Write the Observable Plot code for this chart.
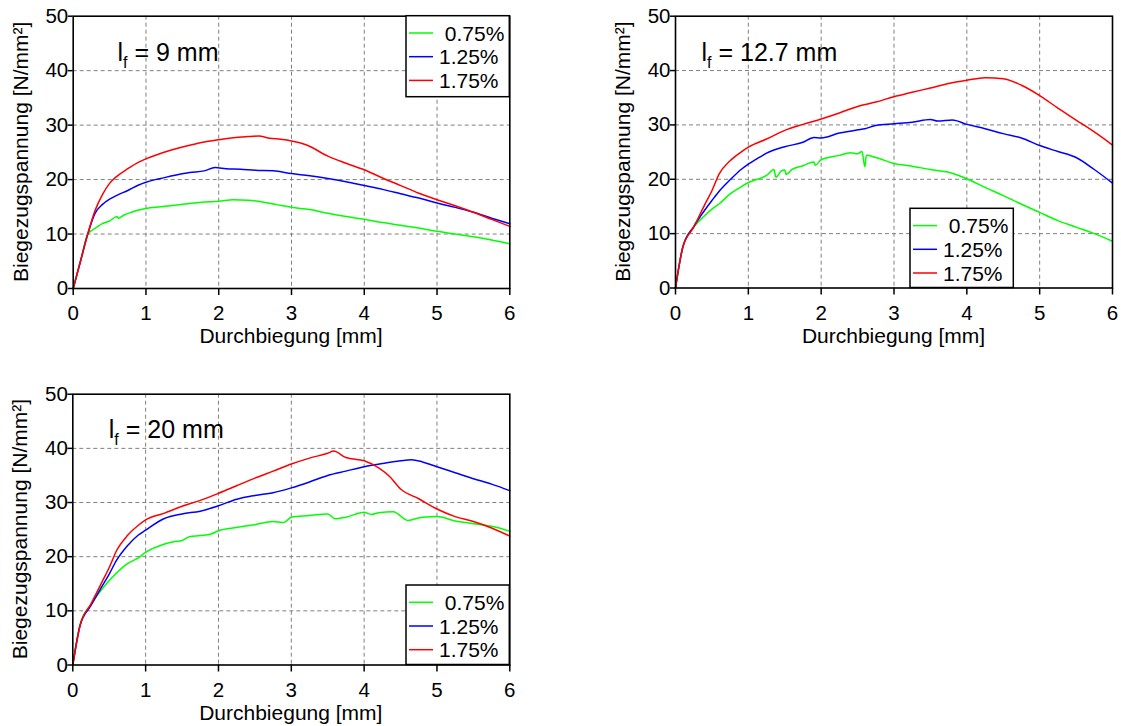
<!DOCTYPE html>
<html><head><meta charset="utf-8">
<script src="https://cdn.jsdelivr.net/npm/d3@7"></script>
<script src="https://cdn.jsdelivr.net/npm/@observablehq/plot@0.6"></script>
<style>
body{margin:0;background:#fff;width:1121px;height:726px;position:relative;overflow:hidden;font-family:"Liberation Sans",Arial,sans-serif}
.panel{position:absolute}
</style></head><body>
<div id="p1" class="panel" style="left:0;top:0"></div>
<div id="p2" class="panel" style="left:600px;top:0"></div>
<div id="p3" class="panel" style="left:0;top:366px"></div>
<script>
const seriesNames = ["\u00a00.75%", "1.25%", "1.75%"];
const seriesColors = ["#00ff00", "#0000ff", "#ff0000"];
const xTicks = [0, 1, 2, 3, 4, 5, 6];
const yTicks = [0, 10, 20, 30, 40, 50];
const xLabel = "Durchbiegung [mm]";
const yLabel = "Biegezugspannung [N/mm²]";

// l_f = 9 mm
const p9_075 = [[0,0],[0.1,5],[0.2,10],[0.25,10.6],[0.33,11.3],[0.4,11.9],[0.5,12.4],[0.6,13.2],[0.62,12.9],[0.7,13.5],[0.8,14.0],[0.9,14.4],[1,14.7],[1.2,15.0],[1.4,15.3],[1.6,15.6],[1.8,15.9],[2,16.0],[2.2,16.3],[2.4,16.2],[2.6,15.9],[2.8,15.4],[3,14.9],[3.25,14.5],[3.5,13.8],[3.75,13.2],[4,12.7],[4.25,12.1],[4.5,11.6],[4.75,11.1],[5,10.5],[5.25,10.0],[5.5,9.5],[5.75,8.9],[6,8.2]];
const p9_125 = [[0,0],[0.1,5],[0.2,10],[0.3,13.8],[0.4,15.4],[0.5,16.4],[0.6,17.1],[0.75,18.0],[0.9,19.0],[1,19.5],[1.1,19.9],[1.2,20.2],[1.4,20.8],[1.6,21.3],[1.8,21.6],[1.95,22.2],[2.1,22.0],[2.3,21.9],[2.5,21.7],[2.75,21.6],[3,21.1],[3.25,20.7],[3.5,20.2],[3.75,19.6],[4,18.9],[4.25,18.2],[4.5,17.4],[4.75,16.6],[5,15.7],[5.25,14.9],[5.5,14.0],[5.75,12.9],[6,11.9]];
const p9_175 = [[0,0],[0.1,5],[0.2,10],[0.3,14.3],[0.4,17.2],[0.5,19.3],[0.6,20.6],[0.75,22.0],[0.9,23.2],[1,23.8],[1.2,24.8],[1.4,25.6],[1.6,26.3],[1.8,26.9],[2,27.3],[2.2,27.7],[2.4,27.9],[2.55,28.0],[2.7,27.6],[2.85,27.4],[3,27.1],[3.2,26.4],[3.5,24.3],[3.75,23.0],[4,21.8],[4.25,20.3],[4.5,18.9],[4.75,17.5],[5,16.3],[5.25,15.2],[5.5,14.0],[5.75,12.7],[6,11.4]];

// l_f = 12.7 mm
const p12_075 = [[0,0],[0.1,7.5],[0.25,11.2],[0.4,13.3],[0.5,14.5],[0.6,15.5],[0.75,17.3],[0.9,18.6],[1,19.4],[1.1,19.9],[1.25,20.7],[1.35,21.8],[1.38,20.4],[1.45,21.5],[1.5,21.7],[1.52,20.9],[1.6,21.8],[1.75,22.5],[1.9,23.2],[1.92,22.6],[2,23.6],[2.25,24.4],[2.4,24.9],[2.5,24.7],[2.56,25.1],[2.6,22.3],[2.62,24.4],[2.75,24.0],[3,22.9],[3.25,22.4],[3.5,21.8],[3.75,21.3],[4,20.1],[4.25,18.5],[4.5,17.0],[4.75,15.4],[5,13.9],[5.25,12.4],[5.5,11.2],[5.75,10.0],[6,8.6]];
const p12_125 = [[0,0],[0.1,7.5],[0.25,11.3],[0.4,14.3],[0.5,16.1],[0.6,17.8],[0.75,19.9],[0.9,21.8],[1,22.8],[1.1,23.6],[1.25,24.8],[1.5,26.0],[1.75,26.8],[1.9,27.7],[2,27.6],[2.25,28.5],[2.5,29.1],[2.6,29.3],[2.75,29.9],[3,30.2],[3.25,30.5],[3.5,31.0],[3.6,30.7],[3.8,30.9],[4,30.1],[4.25,29.3],[4.5,28.4],[4.75,27.6],[5,26.2],[5.25,25.1],[5.5,24.0],[5.75,21.8],[6,19.3]];
const p12_175 = [[0,0],[0.1,7.5],[0.25,11.2],[0.4,15.3],[0.5,17.9],[0.6,21.0],[0.75,23.4],[0.9,25.0],[1,25.9],[1.25,27.4],[1.5,29.0],[1.75,30.1],[2,31.1],[2.25,32.2],[2.5,33.4],[2.75,34.2],[3,35.2],[3.25,36.0],[3.5,36.8],[3.75,37.6],[4,38.2],[4.25,38.7],[4.5,38.5],[4.75,37.3],[5,35.4],[5.25,33.1],[5.5,30.9],[5.75,28.7],[6,26.3]];

// l_f = 20 mm
const p20_075 = [[0,0],[0.1,7.5],[0.25,11.2],[0.4,14.0],[0.5,15.6],[0.6,17.0],[0.75,18.7],[0.9,19.8],[1,20.8],[1.25,22.3],[1.4,22.8],[1.5,23.0],[1.6,23.7],[1.75,23.9],[1.9,24.2],[2,24.8],[2.25,25.4],[2.5,25.9],[2.75,26.5],[2.9,26.3],[3,27.3],[3.25,27.6],[3.5,27.9],[3.6,27.0],[3.75,27.3],[4,28.2],[4.1,27.8],[4.2,28.1],[4.4,28.3],[4.6,26.7],[4.8,27.3],[5,27.4],[5.25,26.6],[5.5,26.1],[5.75,25.6],[6,24.7]];
const p20_125 = [[0,0],[0.1,7.3],[0.25,11.0],[0.4,14.5],[0.5,16.8],[0.6,19.3],[0.75,22.0],[0.9,24.0],[1,24.9],[1.25,27.0],[1.5,27.9],[1.75,28.4],[2,29.4],[2.25,30.6],[2.5,31.3],[2.75,31.8],[3,32.7],[3.25,33.8],[3.5,35.0],[3.75,35.8],[4,36.6],[4.25,37.2],[4.5,37.7],[4.65,37.9],[4.8,37.5],[5,36.6],[5.25,35.5],[5.5,34.4],[5.75,33.4],[6,32.2]];
const p20_175 = [[0,0],[0.1,7.3],[0.25,11.3],[0.4,15.3],[0.5,18.0],[0.6,21.1],[0.75,23.9],[0.9,25.8],[1,26.8],[1.25,28.0],[1.5,29.3],[1.75,30.4],[2,31.7],[2.25,33.1],[2.5,34.5],[2.75,35.8],[3,37.1],[3.25,38.2],[3.5,39.1],[3.58,39.5],[3.75,38.3],[4,37.7],[4.2,36.4],[4.35,34.8],[4.5,32.5],[4.75,30.7],[5,28.8],[5.25,27.4],[5.5,26.5],[5.75,25.3],[6,23.8]];

const FONT = '"Liberation Sans", Arial, sans-serif';

function makePanel(cfg) {
  const {el, width, height, mL, mR, mT, mB, series, titleNum, titleDx, titleDy, legend} = cfg;
  const marks = [
    Plot.gridX(xTicks.slice(1, -1), {stroke: "#808080", strokeOpacity: 1, strokeDasharray: "4,3", strokeWidth: 1}),
    Plot.gridY(yTicks.slice(1, -1), {stroke: "#808080", strokeOpacity: 1, strokeDasharray: "4,3", strokeWidth: 1}),
    ...series.map((s, i) => Plot.line(s, {x: d => d[0], y: d => d[1], stroke: seriesColors[i], strokeWidth: 1.5, curve: "monotone-x"})),
    Plot.frame({stroke: "black", strokeWidth: 1.6}),
    Plot.axisX(xTicks, {tickSize: 7, tickPadding: 10, strokeWidth: 1.5, label: null}),
    Plot.axisY(yTicks, {tickSize: 5, tickPadding: 0, strokeWidth: 1.5, label: null})
  ];
  const svg = Plot.plot({
    width, height, marginLeft: mL, marginRight: mR, marginTop: mT, marginBottom: mB,
    x: {domain: [0, 6]}, y: {domain: [0, 50]},
    style: {fontFamily: FONT, fontSize: "20.5px", color: "black", background: "white", overflow: "visible"},
    marks
  });
  const root = d3.select(svg);
  root.selectAll('g[aria-label$="tick label"]').attr("font-size", 20.5).attr("fill", "black");
  root.selectAll('g[aria-label$="tick label"] text').attr("font-size", 20.5);
  const g = root.append("g").attr("font-family", FONT).attr("fill", "black").attr("text-anchor", "start");
  const fL = mL, fR = width - mR, fT = mT, fB = height - mB;
  // axis titles
  g.append("text").attr("x", (fL + fR) / 2).attr("y", fB + 55).attr("text-anchor", "middle")
    .attr("font-size", 21).text(xLabel);
  g.append("text").attr("transform", `translate(${fL - 45.2},${(fT + fB) / 2}) rotate(-90)`)
    .attr("text-anchor", "middle").attr("font-size", 21).text(yLabel);
  // panel title l_f = ...
  const t = g.append("text").attr("x", fL + titleDx).attr("y", fT + titleDy).attr("font-size", 25).attr("text-anchor", "start");
  t.append("tspan").text("l");
  t.append("tspan").attr("font-size", 16).attr("dy", 7).text("f");
  t.append("tspan").attr("dy", -7).text("\u00a0= " + titleNum + " mm");
  // legend
  const bw = 103.3, bh = legend.h;
  const bx = legend.right != null ? fR - legend.right - bw : fL + legend.left;
  const by = legend.top != null ? fT + legend.top : fB - bh;
  const lg = g.append("g");
  lg.append("rect").attr("x", bx).attr("y", by).attr("width", bw).attr("height", bh)
    .attr("fill", "white").attr("stroke", "black").attr("stroke-width", 1.5);
  seriesNames.forEach((name, i) => {
    const cy = by + 17.3 + i * 23.7;
    lg.append("line").attr("x1", bx + 3).attr("x2", bx + 27).attr("y1", cy).attr("y2", cy)
      .attr("stroke", seriesColors[i]).attr("stroke-width", 1.5);
    lg.append("text").attr("x", bx + 33).attr("y", cy).attr("dy", "0.36em").attr("text-anchor", "start")
      .attr("font-size", 21).text(name);
  });
  document.getElementById(el).appendChild(svg);
}

makePanel({el: "p1", width: 560, height: 360, mL: 72.7, mR: 50.7, mT: 15.7, mB: 72,
  series: [p9_075, p9_125, p9_175], titleNum: "9", titleDx: 44.8, titleDy: 45.3,
  legend: {right: 0, top: 0, h: 81}});
makePanel({el: "p2", width: 521, height: 360, mL: 75, mR: 9, mT: 15.7, mB: 72.5,
  series: [p12_075, p12_125, p12_175], titleNum: "12.7", titleDx: 26.5, titleDy: 45.3,
  legend: {left: 235, h: 79.2}});
makePanel({el: "p3", width: 560, height: 360, mL: 72.3, mR: 50.7, mT: 27.7, mB: 61.5,
  series: [p20_075, p20_125, p20_175], titleNum: "20", titleDx: 36.5, titleDy: 44.3,
  legend: {right: 0, h: 79.5}});
</script>
</body></html>
